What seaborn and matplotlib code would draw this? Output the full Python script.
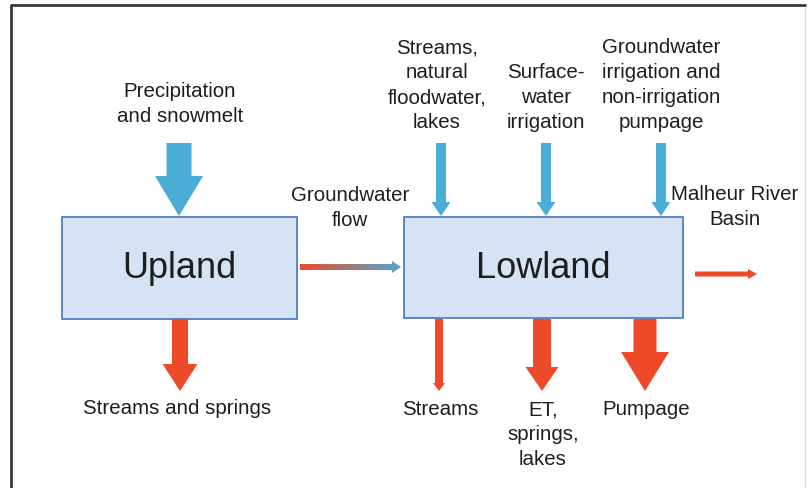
import numpy as np
import matplotlib
matplotlib.use("Agg")
import matplotlib.pyplot as plt
import seaborn as sns
from matplotlib.patches import Polygon, Rectangle
from matplotlib import font_manager

# ---------------- data ----------------
zones = ["Upland", "Lowland"]
upland_inflows = ["Precipitation\nand snowmelt"]
upland_inflow_size = [25]
upland_outflows = ["Streams and springs"]
upland_outflow_size = [16]
transfer_label = "Groundwater\nflow"
lowland_inflows = ["Streams,\nnatural\nfloodwater,\nlakes",
                   "Surface-\nwater\nirrigation",
                   "Groundwater\nirrigation and\nnon-irrigation\npumpage"]
lowland_inflow_size = [10, 10, 10]
lowland_outflows = ["Streams", "ET,\nsprings,\nlakes", "Pumpage"]
lowland_outflow_size = [8, 18, 23]
export_label = "Malheur River\nBasin"

# ---------------- style ----------------
sns.set_theme(style="white")
avail = {f.name for f in font_manager.fontManager.ttflist}
fam = "Liberation Sans" if "Liberation Sans" in avail else "DejaVu Sans"
plt.rcParams["font.family"] = [fam, "DejaVu Sans"]

BLUE = "#49ADD6"
RED = "#EE4A2A"
BOX_FC = "#D5E3F4"
BOX_EC = "#4F7FBF"
TXT = "#1E1E1E"

fig = plt.figure(figsize=(8.08, 4.89), dpi=100)
ax = fig.add_axes([0, 0, 1, 1])
ax.set_xlim(0, 808)
ax.set_ylim(489, 0)
ax.axis("off")

# frame
ax.plot([10, 806], [6, 6], color="#3a3a3a", lw=2, solid_capstyle="butt")
ax.plot([11, 11], [6, 489], color="#3a3a3a", lw=2, solid_capstyle="butt")
ax.plot([805, 805], [8, 489], color="#dddddd", lw=1)


def down_arrow(cx, top, tip, shaft, head, hlen, color):
    hs = tip - hlen
    pts = [(cx - shaft / 2, top), (cx + shaft / 2, top), (cx + shaft / 2, hs),
           (cx + head / 2, hs), (cx, tip), (cx - head / 2, hs), (cx - shaft / 2, hs)]
    ax.add_patch(Polygon(pts, closed=True, fc=color, ec="none", zorder=3))


def right_arrow(x0, tip, cy, shaft, head, hlen, color):
    hs = tip - hlen
    pts = [(x0, cy - shaft / 2), (hs, cy - shaft / 2), (hs, cy - head / 2), (tip, cy),
           (hs, cy + head / 2), (hs, cy + shaft / 2), (x0, cy + shaft / 2)]
    ax.add_patch(Polygon(pts, closed=True, fc=color, ec="none", zorder=3))


# boxes
box_geom = [(62, 218, 235, 102), (404, 218, 279, 101)]
for name, (x, y, w, h) in zip(zones, box_geom):
    ax.add_patch(Rectangle((x, y), w, h, fc=BOX_FC, ec=BOX_EC, lw=1.3, zorder=2))
    ax.text(x + w / 2, y + h / 2, name, fontsize=26, color=TXT,
            ha="center", va="center", zorder=4)

fs = 14.8
ls = 1.4

# upland inflow
for lab, s in zip(upland_inflows, upland_inflow_size):
    down_arrow(179, 144, 217, s, 48, 40, BLUE)
    ax.text(180, 104, lab, fontsize=fs, color=TXT, ha="center", va="center",
            linespacing=ls)

# upland outflow
for lab, s in zip(upland_outflows, upland_outflow_size):
    down_arrow(180, 320, 392, s, 35, 27, RED)
    ax.text(177, 409, lab, fontsize=fs, color=TXT, ha="center", va="center")

# lowland inflows
in_x = [441, 546, 661]
for lab, s, cx in zip(lowland_inflows, lowland_inflow_size, in_x):
    down_arrow(cx, 144, 217, s, 19, 14, BLUE)
    ax.text(cx - 4 if cx == 441 else cx, 132, lab, fontsize=fs, color=TXT,
            ha="center", va="bottom", linespacing=ls)

# lowland outflows
out_x = [439, 542, 645]
heads = [12, 33, 48]
hlens = [8, 24, 39]
for lab, s, cx, hw, hl in zip(lowland_outflows, lowland_outflow_size, out_x, heads, hlens):
    down_arrow(cx, 320, 392, s, hw, hl, RED)
    ax.text(cx + 1, 400, lab, fontsize=fs, color=TXT, ha="center", va="top",
            linespacing=ls)

# groundwater transfer (gradient arrow)
c0 = np.array(matplotlib.colors.to_rgb("#EB4A2A"))
c1 = np.array(matplotlib.colors.to_rgb("#5FA0BE"))
xs = np.linspace(300, 392, 80)
for i in range(len(xs) - 1):
    t = i / (len(xs) - 2)
    ax.add_patch(Rectangle((xs[i], 265), xs[i + 1] - xs[i] + 0.3, 6,
                           fc=c0 * (1 - t) + c1 * t, ec="none", zorder=3))
right_arrow(390, 401, 268, 6, 12, 9, "#5FA0BE")
ax.text(350, 208, transfer_label, fontsize=fs, color=TXT, ha="center", va="center",
        linespacing=ls)

# export arrow
right_arrow(695, 757, 275, 5, 10, 9, RED)
ax.text(735, 207, export_label, fontsize=fs, color=TXT, ha="center", va="center",
        linespacing=ls)

fig.savefig("out.png", dpi=100)
